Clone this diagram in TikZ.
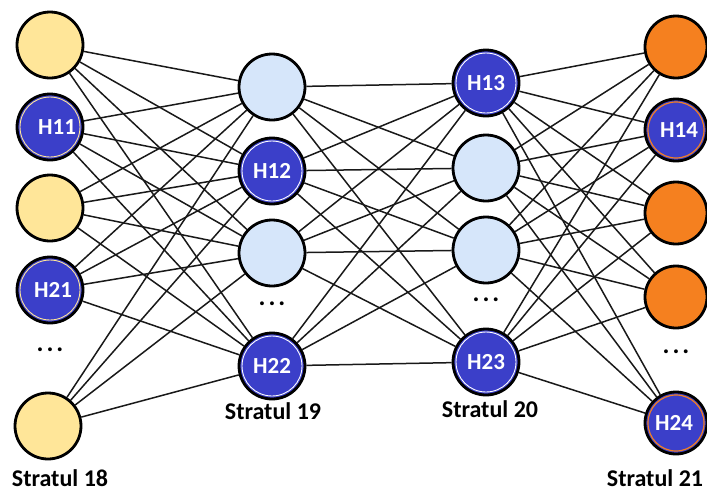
\documentclass[tikz,border=0pt]{standalone}
\usepackage{fontspec}
\setmainfont{Carlito}
\pgfdeclarelayer{background}
\pgfsetlayers{background,main}
\definecolor{yel}{HTML}{FFE699}
\definecolor{lblue}{HTML}{D6E6FA}
\definecolor{dblue}{HTML}{3B3FC9}
\definecolor{orng}{HTML}{F5801F}
\tikzset{
  neuron/.style={circle, draw=black, line width=2.8pt, minimum size=66pt, inner sep=0pt, font=\bfseries\fontsize{23}{25}\selectfont, text=white},
  yn/.style={neuron, fill=yel},
  bn/.style={neuron, fill=lblue},
  on/.style={neuron, fill=orng, minimum size=62pt},
  hn/.style={neuron, fill=dblue, path picture={\draw[#1, line width=0.9pt] (path picture bounding box.center) circle (30pt);}},
  hno/.style={neuron, fill=dblue, minimum size=62pt, path picture={\draw[orng, line width=1.2pt] (path picture bounding box.center) circle (28pt);}},
  dots/.style={font=\bfseries\fontsize{26}{28}\selectfont},
  lab/.style={font=\bfseries\fontsize{24}{26}\selectfont, text=black},
  edge/.style={line width=1.5pt, black!90}
}
\newcommand{\mydots}{.\hspace{3pt}.\hspace{3pt}.}
\begin{document}
\begin{tikzpicture}[x=1pt,y=-1pt]
\useasboundingbox (0,0) rectangle (707,493);
% layer 18
\node[yn] (a1) at (50,45) {};
\node[hn=yel] (a2) at (50,127) {\hspace*{14pt}H11};
\node[yn] (a3) at (50,208) {};
\node[hn=yel] (a4) at (50,290) {\hspace*{6pt}H21};
\node[dots] (ad) at (50,350) {\mydots};
\node[yn] (a5) at (48,426) {};
% layer 19
\node[bn] (b1) at (272,87) {};
\node[hn=white] (b2) at (272,171) {H12};
\node[bn] (b3) at (272,253) {};
\node[dots] (bd) at (272,304) {\mydots};
\node[hn=white] (b4) at (272,366) {H22};
% layer 20
\node[hn=white] (c1) at (486,83) {H13};
\node[bn] (c2) at (486,168) {};
\node[bn] (c3) at (486,250) {};
\node[dots] (cd) at (486,300) {\mydots};
\node[hn=white] (c4) at (486,362) {H23};
% layer 21
\node[on] (d1) at (676,47) {};
\node[hno] (d2) at (676,130) {\hspace*{6pt}H14};
\node[on] (d3) at (676,213) {};
\node[on] (d4) at (676,297) {};
\node[dots] (dd) at (676,352) {\mydots};
\node[hno] (d5) at (676,423) {\hspace*{-4pt}H24};
% labels
\node[lab] (l18) at (60,478) {Stratul 18};
\node[lab] (l19) at (273,411) {Stratul 19};
\node[lab] (l20) at (490,409) {Stratul 20};
\node[lab] (l21) at (655,478) {Stratul 21};
\begin{pgfonlayer}{background}
\foreach \i in {1,...,5}{\foreach \j in {1,...,4}{\draw[edge] (a\i) -- (b\j);}}
\foreach \i in {1,...,4}{\foreach \j in {1,...,4}{\draw[edge] (b\i) -- (c\j);}}
\foreach \i in {1,...,4}{\foreach \j in {1,...,5}{\draw[edge] (c\i) -- (d\j);}}
\end{pgfonlayer}
\end{tikzpicture}
\end{document}
